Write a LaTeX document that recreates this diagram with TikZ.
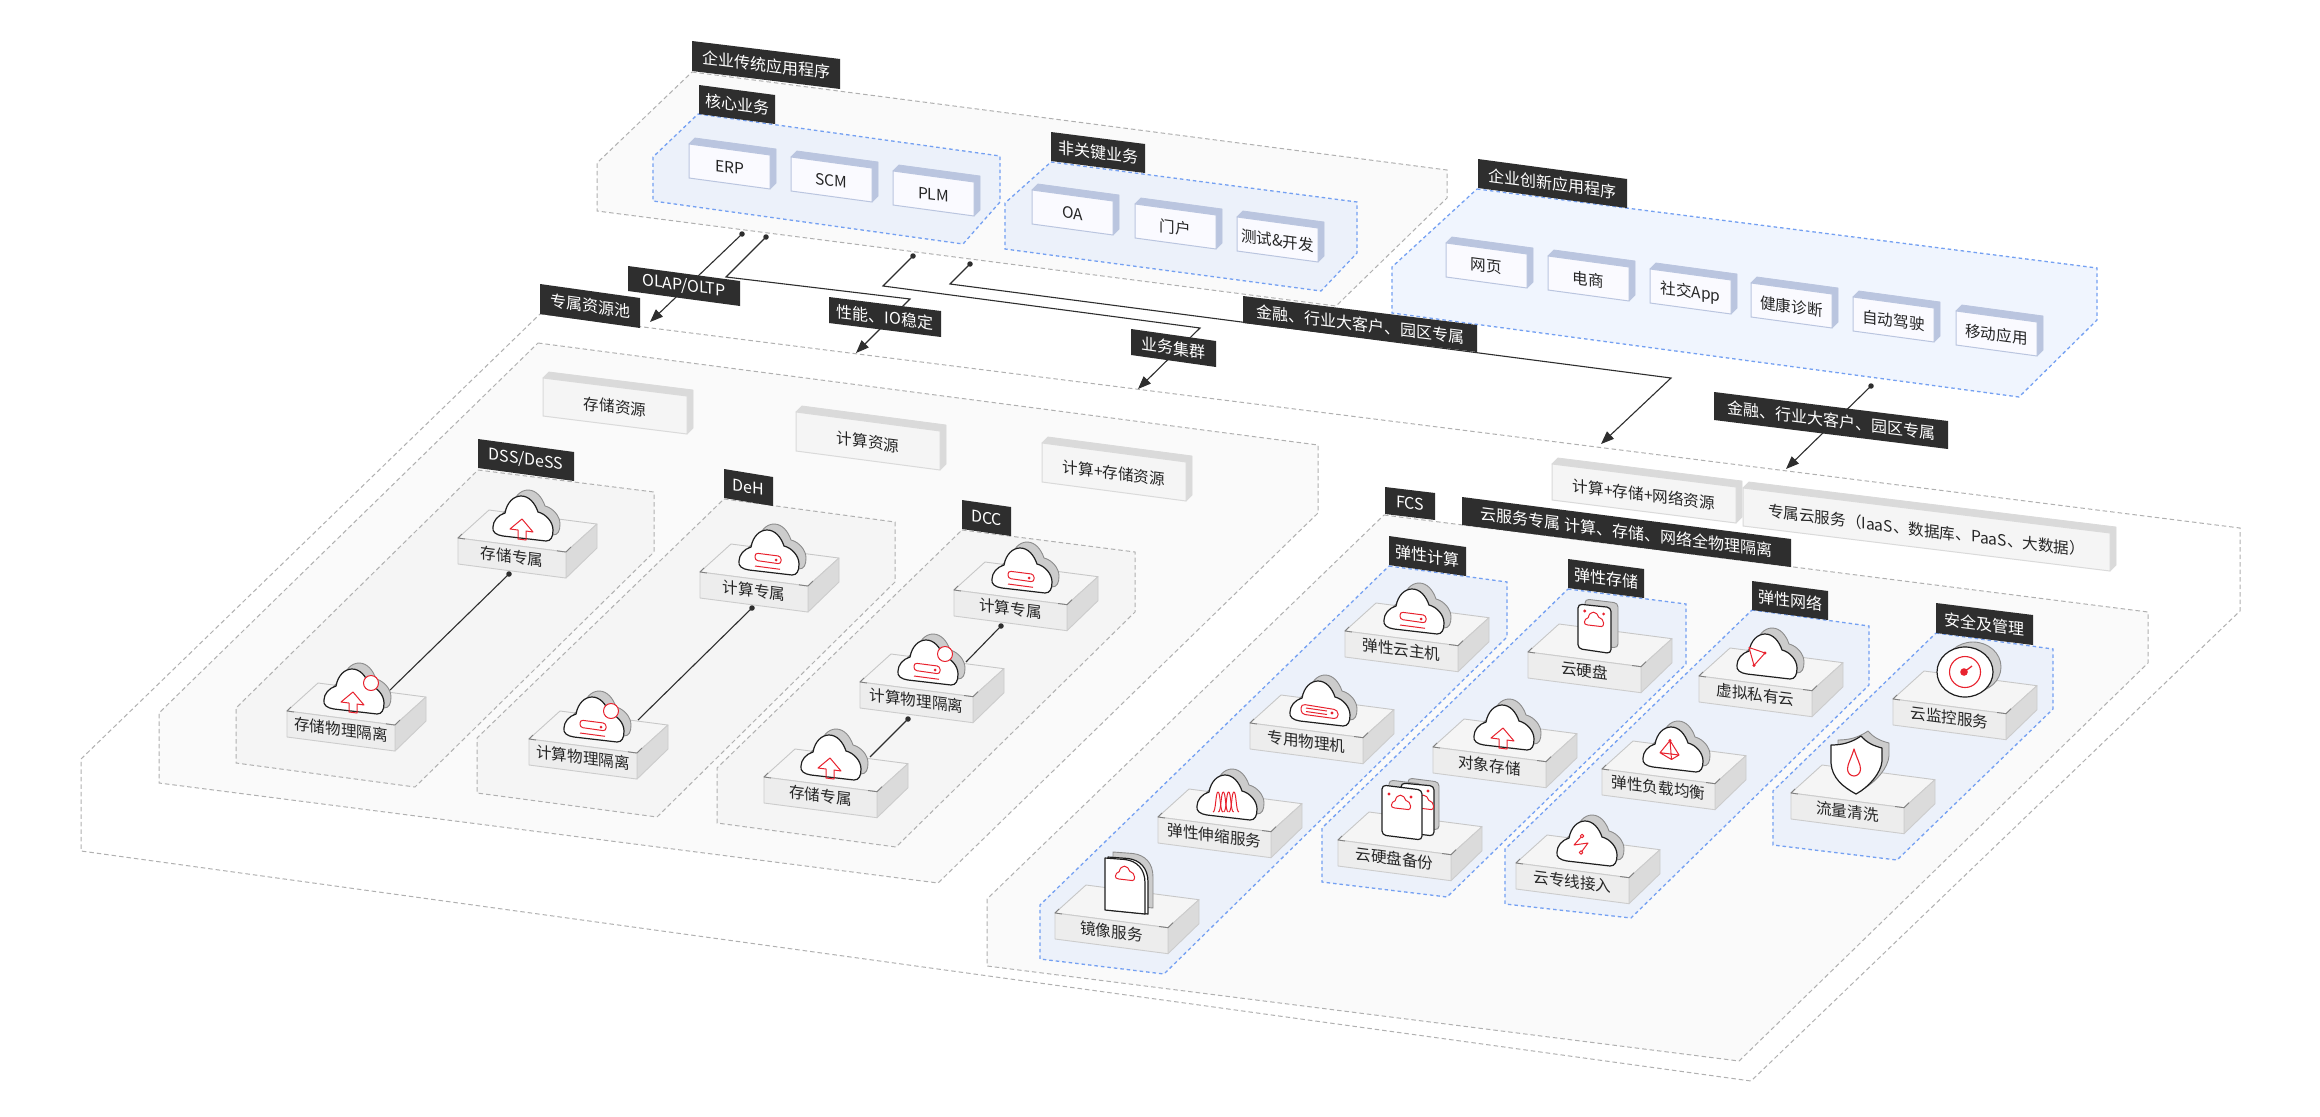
\documentclass[tikz,border=0pt]{standalone}
\usepackage{fontspec}
\setmainfont{Noto Sans CJK SC}
\usetikzlibrary{arrows.meta}
\definecolor{blk}{HTML}{2E2E2E}
\definecolor{dashgray}{HTML}{B0B0B0}
\definecolor{dashblue}{HTML}{74A0F2}
\definecolor{redi}{HTML}{E8222E}
\tikzset{
 graypanel/.style={draw=dashgray,line width=1pt,dash pattern=on 4.5pt off 3pt},
 bluepanel/.style={draw=dashblue,line width=1.3pt,dash pattern=on 3.5pt off 3pt,fill=#1},
 bluepanel/.default={black!0},
 blktxt/.style={text=white,inner sep=0pt,font=\fontsize{16}{18}\selectfont},
 boxtxt/.style={text=black!85,inner sep=0pt,font=\fontsize{15.6}{18}\selectfont},
 conn/.style={draw=blk,line width=1.1pt},
 arr/.style={conn,-{Triangle[length=13pt,width=10pt]}},
 dotn/.style={circle,fill=blk,inner sep=0pt,minimum size=5.5pt},
 cfront/.style={draw=black!88,fill=white,line width=1.2pt,line join=round},
 cshad/.style={draw=black!45,fill=black!20,line width=.9pt,line join=round},
 redl/.style={draw=redi,line width=1pt,line join=round},
}
% slanted text
\newcommand\sltext[6]{% style name x y slope text
 \begin{scope}[shift={(#3,#4)},yslant=#5]\node[#1,transform shape](#2) at (0,0){#6};\end{scope}}
% black label
\newcommand\blab[7]{% name x1 y1 x2 y2 h text
 \fill[blk] (#2,#3)--(#4,#5)--(#4,#5+#6)--(#2,#3+#6)--cycle;
 \pgfmathsetmacro\tmx{(#2+#4)/2}\pgfmathsetmacro\tmy{(#3+#5+#6)/2}\pgfmathsetmacro\tslp{-(#5-#3)/(#4-#2)}
 \sltext{blktxt}{#1}{\tmx}{\tmy}{\tslp}{#7}}
% generic box
\newcommand\abox[8]{% name x y w h rise facecolor topcolor/edgecolor text
 \pgfmathsetmacro\tmx{#2+#4/2}\pgfmathsetmacro\tmy{#3+#6/2+#5/2+1}\pgfmathsetmacro\tslp{-#6/#4}
 \begin{scope}[shift={(#2,#3)}]
 \filldraw[fill=#8,draw=#8,line width=.8pt,line join=round] (0,0)--(6,-6)--(#4+6,#6-6)--(#4+6,#6+#5-6)--(#4,#6+#5)--(#4,#6)--cycle;
 \filldraw[fill=#7,draw=#8,line width=1pt,line join=round] (0,0)--(#4,#6)--(#4,#6+#5)--(0,#5)--cycle;
 \end{scope}
 \sltext{boxtxt}{#1}{\tmx}{\tmy}{\tslp}}
\newcommand\bluebox[4]{\abox{#1}{#2}{#3}{81}{34}{11}{blue!2!white}{bluebox}{#4}}
\definecolor{bluebox}{HTML}{BAC5DF}
\definecolor{graybox}{HTML}{DADADA}
\newcommand\graybx[6]{\abox{#1}{#2}{#3}{#4}{#5}{#6}{black!4}{graybox}}
% platform
\newcommand\plat[5]{% name x y w text
 \pgfmathsetmacro\tmx{#2+#4/2}\pgfmathsetmacro\trise{#4*.13}\pgfmathsetmacro\tmy{#3+\trise/2+11.5}
 \begin{scope}[shift={(#2,#3)},line width=.9pt,line join=round]
 \filldraw[fill=black!4,draw=black!22] (0,0)--(#4,\trise)--(#4+31,\trise-28)--(31,-28)--cycle;
 \filldraw[fill=black!14,draw=black!20] (#4,\trise)--(#4+31,\trise-28)--(#4+31,\trise-4)--(#4,\trise+26)--cycle;
 \filldraw[fill=black!7,draw=black!20] (0,0)--(#4,\trise)--(#4,\trise+26)--(0,26)--cycle;
 \draw[black!50] (4,-4)--(0,0)--(7,1);
 \draw[black!50] (#4-9,\trise-1.2)--(#4,\trise)--(#4+5,\trise-5);
 \end{scope}
 \sltext{boxtxt}{#1}{\tmx}{\tmy}{-.13}{#5}}
% icons
\newcommand\mycloud[1]{\draw[#1] (45,-2) .. controls (38,-3) and (34,-6) .. (35,-11) .. controls (35,-17) and (40,-23) .. (47,-25) .. controls (49,-36) and (56,-42) .. (63,-42) .. controls (71,-42) and (77,-35) .. (80,-26) .. controls (88,-24) and (95,-16) .. (95,-8) .. controls (95,-1) and (93,3) .. (88,3) -- cycle;}
\newcommand\cld[3]{\begin{scope}[shift={(#1,#2)}]\mycloud{cshad,shift={(7,-6)}}\mycloud{cfront}#3\end{scope}}
\newcommand\smcld[2]{\begin{scope}[shift={(#1,#2)},scale=.32,shift={(-65,-20)}]\mycloud{redl}\end{scope}}
\newcommand\icup{\draw[redl] (64,-19)--(75,-6)--(68,-7)--(68,2)--(60,1)--(60,-8)--(52,-9)--cycle;}
\newcommand\icsrv{\draw[redl,rounded corners=3pt] (51,-19)--(77,-15.7)--(77,-8)--(51,-11.7)--cycle;\draw[redl] (51,-6)--(76,-2.7);\fill[redi] (72,-12) circle (1.5);}
\newcommand\icbadge{\filldraw[redl,fill=white] (82,-28) circle (7.5);}
\newcommand\icded{\draw[redl,rounded corners=4pt] (46,-19)--(83,-13)--(83,-4)--(46,-9)--cycle;\draw[redl] (51,-15)--(72,-12) (51,-11.5)--(72,-8.5);\fill[redi] (77,-10) circle (1.7);}
\newcommand\icela{\foreach \a in {51,56.3,61.6,66.9}{\draw[redl] (\a,-5) .. controls (\a+3,-5) and (\a+2.5,-25) .. (\a+5,-25) .. controls (\a+7.5,-25) and (\a+7,-5) .. (\a+10,-5);}}
\newcommand\icvpc{\draw[redl] (47,-28.5)--(63,-23)--(52,-10.6)--cycle;\fill[redi] (63,-23) circle (1.7) (52,-10.6) circle (1.7);}
\newcommand\iclb{\draw[redl] (62,-28.5)--(52,-16.3)--(63.5,-9.5)--(71,-14)--cycle (62,-28.5)--(63.5,-9.5) (52,-16.3)--(71,-14);\fill[redi] (62,-28.5) circle (1.6);}
\newcommand\icdir{\draw[redl] (60,-27)--(52,-18)--(66,-20)--(59,-10.5);\filldraw[redl,fill=white] (60,-27) circle (1.8) (59,-10.5) circle (1.8);}
\begin{document}
\begin{tikzpicture}[x=1pt,y=-1pt]
\useasboundingbox (0,0) rectangle (2320,1116);
\fill[white] (0,0) rectangle (2320,1116);
% dedicated pool panels
\draw[graypanel,fill=white] (540,314)--(2240,528)--(2240,611)--(1751,1081)--(81,851)--(81,759)--cycle;
\draw[graypanel,fill=black!2] (538,343)--(1318,445)--(1318,513)--(938,883)--(159,783)--(159,713)--cycle;
\draw[graypanel,fill=black!4] (478,470)--(654,492)--(654,552)--(415,787)--(236,763)--(236,708)--cycle;
\draw[graypanel,fill=black!4] (724,499)--(895,522)--(895,582)--(657,817)--(477,793)--(477,738)--cycle;
\draw[graypanel,fill=black!4] (962,530)--(1135,552)--(1135,612)--(896,847)--(717,823)--(717,768)--cycle;
\draw[graypanel,fill=black!2] (1384,515)--(2148,612)--(2148,663)--(1739,1061)--(987,966)--(987,899)--cycle;
\definecolor{bpan}{HTML}{ECF1FA}\definecolor{bpanb}{HTML}{F0F5FE}
\draw[bluepanel=bpan] (1389,566)--(1507,582)--(1507,637)--(1164,974)--(1040,959)--(1040,905)--cycle;
\draw[bluepanel=bpan] (1568,589)--(1686,604)--(1686,664)--(1447,897)--(1322,882)--(1322,828)--cycle;
\draw[bluepanel=bpan] (1752,610)--(1869,626)--(1869,685)--(1631,918)--(1505,904)--(1505,849)--cycle;
\draw[bluepanel=bpan] (1936,633)--(2053,649)--(2053,709)--(1897,860)--(1773,845)--(1773,791)--cycle;
% application panels
\draw[graypanel,fill=black!2] (692,72)--(1447,170)--(1447,198)--(1336,306)--(597,211)--(597,163)--cycle;
\draw[bluepanel=bpan] (698,114)--(1000,156)--(1000,202)--(963,244)--(653,201)--(653,157)--cycle;
\draw[bluepanel=bpan] (1051,162)--(1357,202)--(1357,253)--(1321,291)--(1005,249)--(1005,203)--cycle;
\draw[bluepanel=bpanb] (1477,189)--(2097,268)--(2097,320)--(2019,397)--(1392,313)--(1392,267)--cycle;
% app boxes
\bluebox{erp}{689}{144}{ERP}
\bluebox{scm}{791}{157}{SCM}
\bluebox{plm}{893}{171}{PLM}
\bluebox{oa}{1032}{190}{OA}
\bluebox{portal}{1135}{204}{门户}
\bluebox{testdev}{1237}{217}{测试\&开发}
\bluebox{web}{1446}{243}{网页}
\bluebox{shop}{1548}{256}{电商}
\bluebox{social}{1650}{269}{社交App}
\bluebox{health}{1751}{283}{健康诊断}
\bluebox{drive}{1853}{297}{自动驾驶}
\bluebox{mobile}{1956}{311}{移动应用}
% resource boxes
\graybx{resS}{543}{378}{144}{38}{18}{存储资源}
\graybx{resC}{796}{412}{144}{39}{19}{计算资源}
\graybx{resCS}{1042}{443}{144}{39}{19}{计算+存储资源}
\graybx{resCSN}{1552}{464}{184}{36}{23}{计算+存储+网络资源}
\graybx{resCloud}{1743}{488}{367}{38}{45}{专属云服务（IaaS、数据库、PaaS、大数据）}
% platforms
\plat{p1}{458}{538}{108}{存储专属}
\plat{p2}{287}{711}{108}{存储物理隔离}
\plat{p3}{700}{572}{108}{计算专属}
\plat{p4}{529}{739}{108}{计算物理隔离}
\plat{p5}{954}{590}{113}{计算专属}
\plat{p6}{860}{682}{113}{计算物理隔离}
\plat{p7}{764}{777}{113}{存储专属}
\plat{p8}{1345}{631}{113}{弹性云主机}
\plat{p9}{1250}{723}{113}{专用物理机}
\plat{p10}{1158}{817}{113}{弹性伸缩服务}
\plat{p11}{1055}{913}{113}{镜像服务}
\plat{p12}{1528}{652}{113}{云硬盘}
\plat{p13}{1433}{747}{113}{对象存储}
\plat{p14}{1338}{840}{113}{云硬盘备份}
\plat{p15}{1699}{676}{113}{虚拟私有云}
\plat{p16}{1602}{769}{113}{弹性负载均衡}
\plat{p17}{1516}{863}{113}{云专线接入}
\plat{p18}{1893}{699}{113}{云监控服务}
\plat{p19}{1791}{793}{113}{流量清洗}
% connectors
\node[dotn] (d1) at (742,234) {};
\node[dotn] (d2) at (766,237) {};
\node[dotn] (d3) at (913,256) {};
\node[dotn] (d4) at (970,264) {};
\node[dotn] (d5) at (1871,386) {};
\node[dotn] (d6) at (509,574) {};
\node[dotn] (d7) at (752,608) {};
\node[dotn] (d8) at (1001,626) {};
\node[dotn] (d9) at (908,719) {};
\coordinate (e1) at (650,322);
\coordinate (b2a) at (726,277); \coordinate (b2b) at (910,299); \coordinate (e2) at (856,353);
\coordinate (b3a) at (883,286); \coordinate (b3b) at (1200,328); \coordinate (e3) at (1138,389);
\coordinate (b4a) at (950,284); \coordinate (b4b) at (1671,378); \coordinate (e4) at (1601,444);
\coordinate (e5) at (1786,469);
\coordinate (e6) at (390,690); \coordinate (e7) at (638,720); \coordinate (e8) at (966,662); \coordinate (e9) at (870,757);
\draw[arr] (d1.center)--(e1);
\draw[arr] (d2.center)--(b2a)--(b2b)--(e2);
\draw[arr] (d3.center)--(b3a)--(b3b)--(e3);
\draw[arr] (d4.center)--(b4a)--(b4b)--(e4);
\draw[arr] (d5.center)--(e5);
\draw[conn] (d6.center)--(e6);
\draw[conn] (d7.center)--(e7);
\draw[conn] (d8.center)--(e8);
\draw[conn] (d9.center)--(e9);
% icons
\cld{458}{538}{\icup}
\cld{289}{711}{\icup\icbadge}
\cld{704}{572}{\icsrv}
\cld{529}{739}{\icsrv\icbadge}
\cld{957}{590}{\icsrv}
\cld{863}{682}{\icsrv\icbadge}
\cld{766}{777}{\icup}
\cld{1349}{631}{\icsrv}
\cld{1255}{723}{\icded}
\cld{1162}{817}{\icela}
\cld{1439}{747}{\icup}
\cld{1702}{676}{\icvpc}
\cld{1608}{769}{\iclb}
\cld{1522}{863}{\icdir}
% image service
\begin{scope}[shift={(1055,913)}]
\draw[cshad] (58,-61)--(78,-59.5) .. controls (90,-58) and (98,-50) .. (98,-36)--(98,-5)--(58,-9)--cycle;
\draw[cfront] (53,-56)--(73,-54.5) .. controls (85,-53) and (93,-45) .. (93,-31)--(93,1)--(53,-3)--cycle;
\draw[cfront] (50,-55)--(70,-53.5) .. controls (82,-52) and (90,-44) .. (90,-30)--(90,1)--(50,-3)--cycle;
\smcld{70}{-27}
\end{scope}
% disk
\begin{scope}[shift={(1528,652)}]
\draw[cshad,rounded corners=4pt] (57,-53)--(90,-49)--(90,-4)--(57,-8)--cycle;
\draw[cfront,rounded corners=4pt] (50,-48)--(83,-44.5)--(83,1.5)--(50,-3.4)--cycle;
\fill[redi] (56.7,-41) circle (1.6) (75.6,-38) circle (1.6);
\smcld{66}{-20}
\end{scope}
% disk backup
\begin{scope}[shift={(1338,840)}]
\draw[cshad,rounded corners=4pt] (70,-62)--(101,-58)--(101,-10)--(70,-14)--cycle;
\draw[cshad,rounded corners=4pt] (51,-60)--(84,-56)--(84,-10)--(51,-14)--cycle;
\draw[cfront,rounded corners=4pt] (63,-57)--(96,-54)--(96,-4)--(63,-8)--cycle;
\fill[redi] (90,-49) circle (1.6);
\smcld{86}{-25}
\draw[cfront,rounded corners=4pt] (44,-55)--(84,-50)--(84,0)--(44,-5)--cycle;
\fill[redi] (51,-46) circle (1.6) (73,-43) circle (1.6);
\smcld{63}{-25}
\end{scope}
% monitor
\begin{scope}[shift={(1893,699)}]
\draw[cshad] (80,-32) ellipse [x radius=28,y radius=25];
\draw[cfront] (72,-27) ellipse [x radius=28,y radius=25];
\draw[redl,line width=1.1pt] (72,-27) circle (15.5);
\fill[redi] (71,-27) circle (3.8);
\draw[redl,line width=1.3pt] (71,-27)--(79,-33);
\end{scope}
% shield
\begin{scope}[shift={(1791,793)}]
\draw[cshad,shift={(7,-5)}] (70,-57) .. controls (60,-50) and (50,-48) .. (40,-48)--(40,-30) .. controls (41,-15) and (52,-6) .. (65,1) .. controls (78,-6) and (90,-20) .. (91,-32)--(91,-45) .. controls (83,-47) and (76,-50) .. (70,-57)--cycle;
\draw[cfront] (70,-57) .. controls (60,-50) and (50,-48) .. (40,-48)--(40,-30) .. controls (41,-15) and (52,-6) .. (65,1) .. controls (78,-6) and (90,-20) .. (91,-32)--(91,-45) .. controls (83,-47) and (76,-50) .. (70,-57)--cycle;
\draw[redl,line width=1.1pt] (63,-44) .. controls (60,-34) and (56.5,-29) .. (56.5,-24) .. controls (56.5,-20) and (59.5,-17) .. (63,-17) .. controls (66.5,-17) and (69.5,-20) .. (69.5,-24) .. controls (69.5,-29) and (66,-34) .. (63,-44)--cycle;
\end{scope}
% black labels
\blab{l1}{692}{41}{840}{59}{30}{企业传统应用程序}
\blab{l2}{699}{85}{775}{95}{29}{核心业务}
\blab{l3}{1051}{132}{1145}{144}{29}{非关键业务}
\blab{l4}{628}{266}{740}{281}{25}{OLAP/OLTP}
\blab{l5}{540}{284}{640}{298}{30}{专属资源池}
\blab{l6}{829}{297}{941}{311}{26}{性能、IO稳定}
\blab{l7}{1131}{329}{1216}{341}{26}{业务集群}
\blab{l8}{1243}{296}{1477}{325}{27}{金融、行业大客户、园区专属}
\blab{l9}{1714}{392}{1948}{421}{28}{金融、行业大客户、园区专属}
\blab{l10}{1478}{159}{1627}{179}{29}{企业创新应用程序}
\blab{l11}{1385}{487}{1435}{493}{27}{FCS}
\blab{l12}{1462}{497}{1791}{539}{28}{云服务专属 计算、存储、网络全物理隔离}
\blab{l13}{1389}{536}{1466}{547}{29}{弹性计算}
\blab{l14}{1568}{559}{1644}{569}{29}{弹性存储}
\blab{l15}{478}{439}{574}{452}{29}{DSS/DeSS}
\blab{l16}{724}{469}{773}{477}{29}{DeH}
\blab{l17}{962}{500}{1011}{507}{29}{DCC}
\blab{l18}{1752}{581}{1828}{591}{29}{弹性网络}
\blab{l19}{1936}{603}{2033}{615}{30}{安全及管理}
\end{tikzpicture}
\end{document}
